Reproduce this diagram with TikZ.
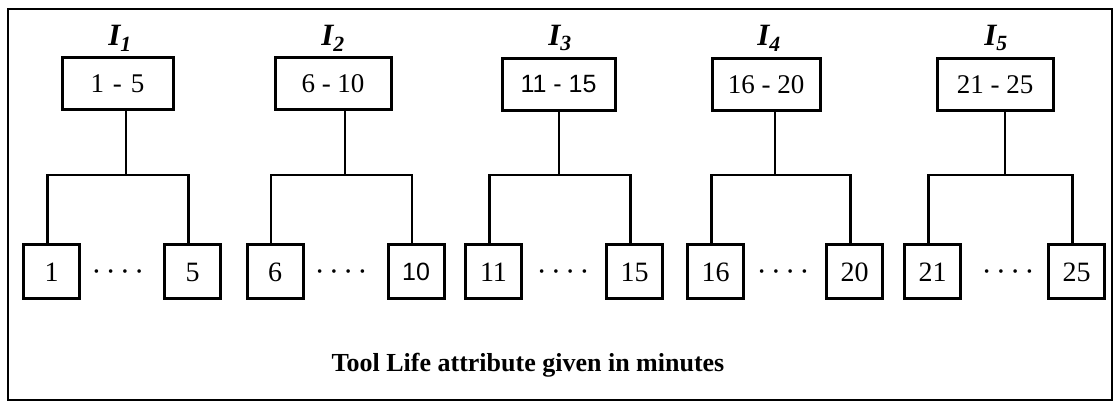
\documentclass[tikz,border=0pt]{standalone}
\usepackage{fontspec}
\setmainfont{Liberation Serif}
\newfontfamily\arialf{Liberation Sans}
\begin{document}
\begin{tikzpicture}[x=1pt,y=-1pt,
  topbox/.style={draw,line width=3pt,minimum height=52pt,inner sep=0pt,font=\fontsize{27}{30}\selectfont},
  leafbox/.style={draw,line width=3pt,minimum width=56pt,minimum height=54pt,inner sep=0pt,font=\fontsize{28}{30}\selectfont},
  lbl/.style={font=\fontsize{31}{34}\selectfont\bfseries\itshape},
  conn/.style={line width=2.6pt},
  dots/.style={font=\fontsize{15}{17}\selectfont},
  frame/.style={line width=2.4pt}]
\useasboundingbox (0,0) rectangle (1114,403);
\draw[frame] (8,9) rectangle (1112,400);
% top boxes
\node[topbox,minimum width=111pt] (t1) at (117.5,84) {1\,\,-\,\,5};
\node[topbox,minimum width=116pt] (t2) at (333,84) {6 - 10};
\node[topbox,minimum width=113pt] (t3) at (558.5,84.5) {\arialf\fontsize{25}{28}\selectfont 11 - 15};
\node[topbox,minimum width=108pt] (t4) at (766,85) {16 - 20};
\node[topbox,minimum width=116pt] (t5) at (995,85) {21 - 25};
% labels
\node[lbl] (i1) at (120,38) {I\textsubscript{1}};
\node[lbl] (i2) at (333,38) {I\textsubscript{2}};
\node[lbl] (i3) at (560,38) {I\textsubscript{3}};
\node[lbl] (i4) at (769,38) {I\textsubscript{4}};
\node[lbl] (i5) at (996,38) {I\textsubscript{5}};
% leaf boxes
\node[leafbox] (a1) at (51.5,272) {1};
\node[leafbox] (b1) at (192.5,272) {5};
\node[leafbox] (a2) at (275,272) {6};
\node[leafbox] (b2) at (416,272) {\arialf\fontsize{25}{28}\selectfont 10};
\node[leafbox] (a3) at (493.5,272) {11};
\node[leafbox] (b3) at (634.5,272) {15};
\node[leafbox] (a4) at (715.5,272) {16};
\node[leafbox] (b4) at (854.5,272) {20};
\node[leafbox] (a5) at (932.5,272) {21};
\node[leafbox] (b5) at (1076.5,272) {25};
% dots
\node[dots] (d1) at (118,273) {\textbullet\hspace{9pt}\textbullet\hspace{9pt}\textbullet\hspace{9pt}\textbullet};
\node[dots] (d2) at (341,273) {\textbullet\hspace{9pt}\textbullet\hspace{9pt}\textbullet\hspace{9pt}\textbullet};
\node[dots] (d3) at (563,273) {\textbullet\hspace{9pt}\textbullet\hspace{9pt}\textbullet\hspace{9pt}\textbullet};
\node[dots] (d4) at (783,273) {\textbullet\hspace{9pt}\textbullet\hspace{9pt}\textbullet\hspace{9pt}\textbullet};
\node[dots] (d5) at (1008,273) {\textbullet\hspace{9pt}\textbullet\hspace{9pt}\textbullet\hspace{9pt}\textbullet};
% junctions
\coordinate (j1) at (126,175);
\coordinate (j2) at (345,175);
\coordinate (j3) at (559,175);
\coordinate (j4) at (775,175);
\coordinate (j5) at (1005,175);
\foreach \k in {1,...,5}{
  \draw[conn] (t\k.south -| j\k) -- (j\k);
  \draw[conn] ([xshift=-4pt]a\k.north) |- (j\k) -| ([xshift=-4pt]b\k.north);
}
% caption
\node[font=\fontsize{26}{29}\selectfont\bfseries] (cap) at (528,365) {Tool Life attribute given in minutes};
\end{tikzpicture}
\end{document}
